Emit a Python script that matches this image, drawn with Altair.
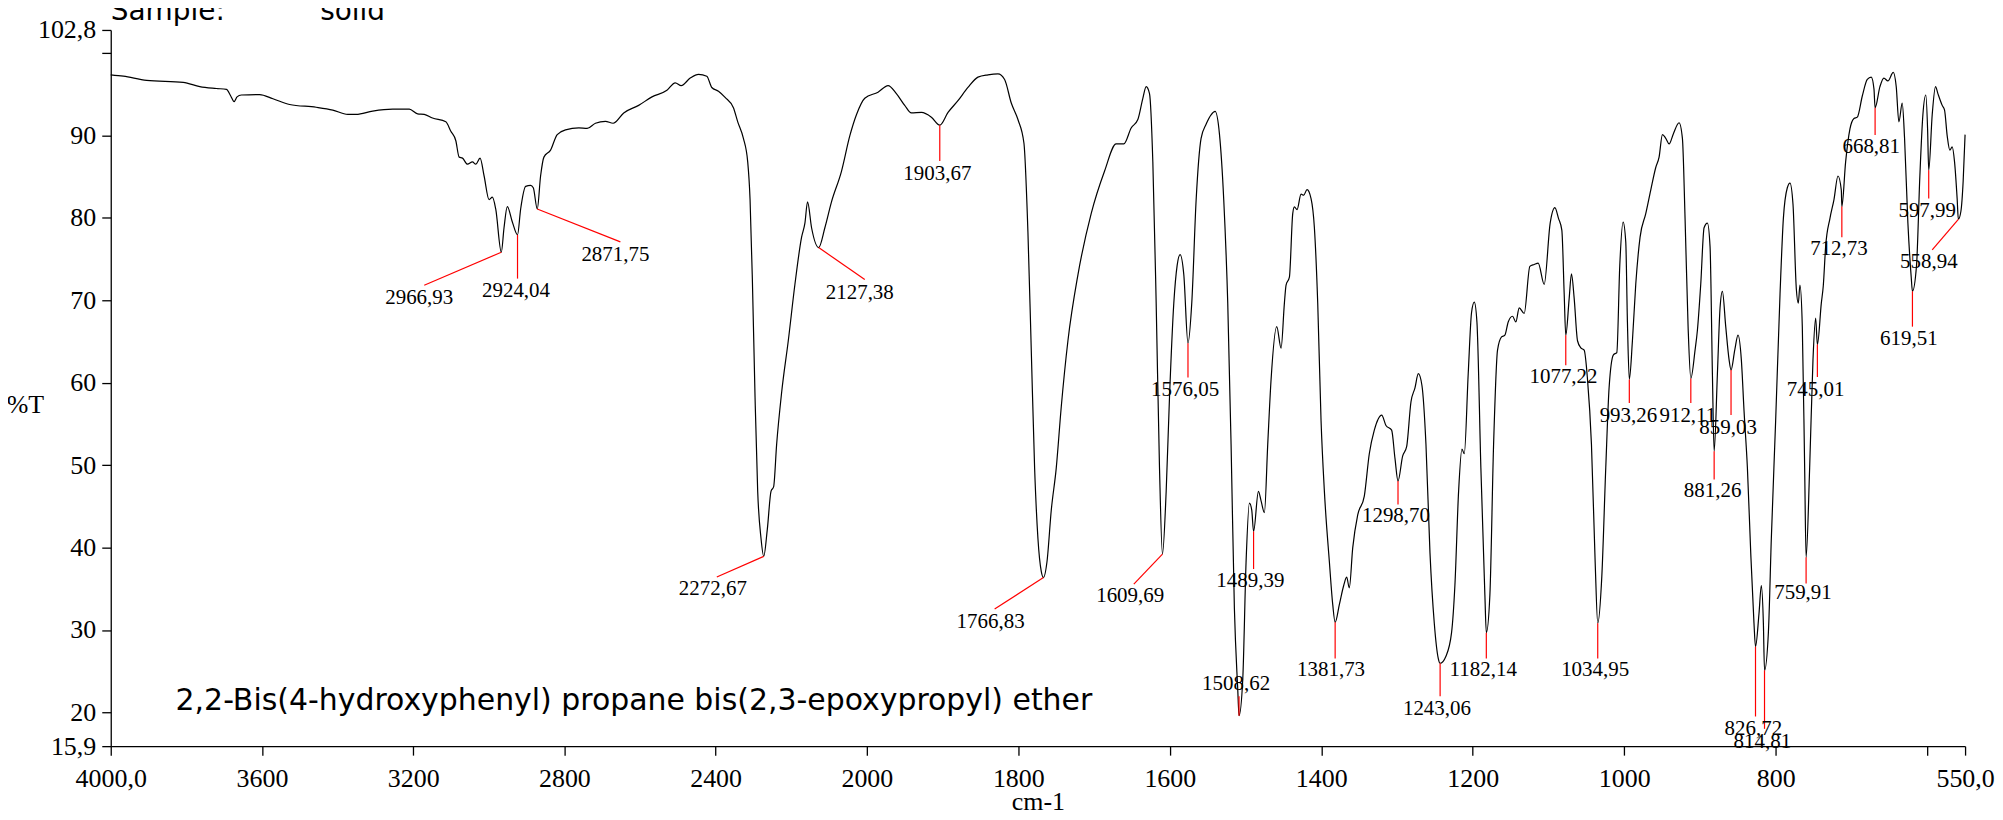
import altair as alt
import pandas as pd

# ---------------- spectrum (wavenumber cm-1, %T) ----------------
wavenumber = [
    4000.0, 3966.6, 3905.1, 3808.3, 3764.4, 3720.4, 3694.0, 3682.6, 3673.8, 3665.9,
    3654.4, 3606.1, 3570.9, 3526.9, 3456.6, 3412.6, 3373.0, 3351.0, 3307.1, 3254.3,
    3210.3, 3188.3, 3170.8, 3148.8, 3113.6, 3100.4, 3087.2, 3078.4, 3069.6, 3056.4,
    3043.2, 3034.4, 3023.0, 3012.4, 2999.3, 2990.5, 2981.7, 2966.9, 2959.7, 2951.0,
    2937.7, 2924.0, 2915.7, 2902.5, 2889.4, 2882.3, 2871.8, 2863.0, 2854.2, 2836.6,
    2819.0, 2797.0, 2761.8, 2739.9, 2717.9, 2691.5, 2671.3, 2643.1, 2603.6, 2568.4,
    2528.8, 2506.8, 2491.0, 2467.2, 2445.2, 2423.3, 2410.1, 2392.5, 2374.9, 2352.9,
    2341.5, 2326.5, 2315.1, 2308.9, 2302.8, 2295.7, 2288.7, 2279.9, 2272.7, 2263.2,
    2253.5, 2246.5, 2238.6, 2225.4, 2207.8, 2190.2, 2172.6, 2163.8, 2156.8, 2146.2,
    2127.4, 2111.0, 2093.5, 2067.1, 2045.1, 2027.5, 2005.5, 1985.2, 1972.0, 1961.0,
    1950.0, 1941.2, 1928.0, 1914.8, 1903.7, 1892.8, 1879.7, 1866.5, 1853.3, 1840.1,
    1826.9, 1818.1, 1809.3, 1800.5, 1792.6, 1787.3, 1782.9, 1778.5, 1774.1, 1769.7,
    1766.8, 1762.2, 1756.5, 1749.9, 1743.3, 1734.5, 1721.3, 1703.8, 1686.2, 1670.8,
    1660.7, 1651.0, 1642.2, 1635.6, 1631.2, 1626.8, 1622.4, 1618.0, 1613.6, 1609.7,
    1604.8, 1600.4, 1594.7, 1590.3, 1586.4, 1581.5, 1576.0, 1571.0, 1565.2, 1558.7,
    1552.1, 1545.5, 1540.2, 1534.5, 1528.8, 1523.5, 1519.1, 1514.7, 1510.3, 1508.6,
    1503.7, 1499.3, 1494.9, 1491.8, 1489.4, 1483.0, 1479.5, 1475.1, 1470.7, 1466.3,
    1458.8, 1453.1, 1448.7, 1446.5, 1442.1, 1437.7, 1435.5, 1432.0, 1426.7, 1423.2,
    1418.8, 1413.5, 1409.1, 1404.7, 1400.3, 1395.9, 1389.3, 1384.9, 1381.7, 1376.1,
    1370.4, 1366.5, 1363.0, 1358.5, 1351.9, 1343.2, 1336.6, 1330.0, 1320.3, 1314.6,
    1307.1, 1302.7, 1298.7, 1292.6, 1287.3, 1281.6, 1276.3, 1271.9, 1267.1, 1261.8,
    1256.5, 1250.8, 1245.5, 1243.1, 1235.4, 1228.0, 1223.6, 1218.7, 1214.3, 1211.2,
    1206.0, 1201.6, 1198.0, 1194.5, 1189.3, 1184.0, 1182.1, 1177.4, 1172.5, 1167.3,
    1162.0, 1157.6, 1153.2, 1147.5, 1143.1, 1138.7, 1132.1, 1124.6, 1118.9, 1113.6,
    1105.7, 1097.8, 1091.6, 1086.8, 1082.4, 1079.3, 1077.2, 1072.7, 1069.7, 1066.1,
    1061.7, 1057.3, 1052.9, 1048.6, 1043.3, 1038.4, 1035.0, 1029.6, 1024.4, 1020.0,
    1014.3, 1009.8, 1005.9, 1001.5, 998.0, 995.8, 993.3, 989.2, 984.8, 979.1,
    971.6, 965.0, 958.4, 954.0, 949.6, 945.2, 940.8, 935.1, 927.6, 923.2,
    919.7, 915.7, 912.1, 906.5, 903.4, 899.0, 894.6, 890.2, 886.7, 883.6,
    881.3, 877.0, 873.5, 870.4, 866.0, 861.6, 859.0, 854.1, 849.8, 845.4,
    841.8, 837.4, 833.0, 828.7, 826.7, 822.1, 819.0, 816.3, 814.8, 809.7,
    805.8, 800.1, 794.3, 789.9, 784.7, 781.2, 777.2, 772.8, 770.2, 768.0,
    764.9, 761.8, 759.9, 755.2, 750.8, 747.3, 745.0, 739.8, 737.2, 734.1,
    728.4, 723.1, 717.8, 713.4, 712.7, 707.7, 702.0, 696.7, 692.3, 685.7,
    679.1, 673.9, 670.3, 668.8, 662.4, 657.2, 651.9, 644.8, 640.9, 637.4,
    633.0, 629.9, 625.5, 621.1, 619.5, 614.1, 609.7, 605.7, 601.8, 599.5,
    598.0, 593.4, 589.0, 585.9, 580.2, 577.1, 573.6, 570.1, 567.0, 563.9,
    560.4, 558.9, 555.5, 552.5, 550.0,
]
transmittance = [
    97.36, 97.19, 96.68, 96.45, 95.93, 95.70, 95.59, 94.79, 94.10, 94.68,
    94.91, 94.96, 94.45, 93.76, 93.42, 93.08, 92.56, 92.56, 92.96, 93.19,
    93.19, 92.62, 92.56, 92.11, 91.65, 90.51, 89.36, 87.37, 87.25, 86.51,
    86.79, 86.51, 87.25, 85.08, 82.22, 82.51, 81.08, 75.83, 78.80, 81.37,
    79.50, 77.94, 81.08, 83.82, 83.94, 83.65, 81.08, 85.08, 87.37, 88.22,
    90.11, 90.68, 90.91, 90.85, 91.48, 91.71, 91.48, 92.73, 93.65, 94.68,
    95.48, 96.39, 96.05, 96.96, 97.42, 97.19, 95.82, 95.36, 94.62, 93.36,
    91.65, 89.65, 86.79, 82.22, 72.51, 58.24, 46.81, 41.10, 38.93, 42.24,
    46.81, 47.38, 52.52, 58.81, 65.09, 71.94, 77.66, 79.37, 81.94, 78.80,
    76.40, 78.80, 81.94, 85.65, 89.94, 92.51, 94.51, 95.25, 96.05, 95.08,
    93.65, 92.73, 92.79, 92.22, 91.25, 92.79, 94.22, 95.82, 97.08, 97.36,
    97.48, 96.79, 93.93, 91.93, 89.08, 78.23, 63.95, 49.67, 41.10, 37.10,
    36.36, 38.24, 44.53, 49.67, 57.09, 65.09, 73.09, 80.51, 85.65, 88.97,
    88.97, 90.91, 91.93, 94.51, 95.93, 95.08, 86.79, 69.66, 49.67, 39.21,
    46.81, 58.24, 69.66, 74.23, 75.54, 73.09, 64.80, 69.66, 82.22, 89.65,
    91.36, 92.51, 92.91, 90.22, 82.22, 69.66, 52.52, 32.53, 22.82, 19.60,
    23.96, 38.24, 45.38, 44.53, 41.95, 46.81, 45.67, 44.24, 52.52, 60.35,
    66.80, 64.19, 69.66, 71.85, 72.80, 80.51, 81.33, 81.00, 82.87, 82.75,
    83.43, 82.34, 78.80, 69.66, 55.38, 46.81, 38.24, 33.10, 30.93, 33.10,
    35.39, 36.42, 35.10, 39.96, 43.96, 46.24, 51.38, 54.24, 56.07, 54.81,
    54.24, 50.81, 48.07, 51.09, 52.24, 57.66, 59.38, 61.09, 59.66, 52.52,
    39.38, 30.82, 26.53, 25.96, 26.82, 29.67, 35.39, 46.81, 51.95, 51.38,
    61.09, 68.52, 69.77, 67.37, 49.67, 34.24, 29.67, 34.24, 52.52, 63.95,
    65.55, 65.77, 67.37, 68.06, 67.37, 69.09, 68.40, 74.11, 74.34, 74.51,
    71.94, 79.37, 81.25, 79.94, 78.51, 70.80, 65.77, 70.23, 73.20, 70.23,
    65.09, 64.23, 63.95, 60.52, 52.52, 38.24, 30.82, 36.53, 49.67, 59.38,
    63.38, 63.66, 74.23, 79.48, 77.08, 67.37, 60.40, 65.09, 71.94, 77.66,
    80.51, 83.37, 86.11, 87.37, 90.11, 89.65, 88.97, 90.22, 91.54, 89.65,
    79.94, 66.80, 60.52, 63.95, 66.37, 71.94, 78.80, 79.37, 76.51, 61.09,
    51.67, 61.09, 69.09, 71.09, 66.80, 62.80, 61.55, 63.95, 65.77, 62.80,
    56.52, 49.67, 39.38, 30.82, 27.96, 31.96, 35.39, 30.82, 25.10, 29.67,
    41.10, 55.38, 70.80, 79.94, 83.65, 84.22, 81.65, 71.37, 69.66, 71.83,
    66.80, 49.67, 38.81, 49.67, 62.80, 67.83, 64.63, 69.66, 71.77, 76.51,
    79.94, 82.22, 85.08, 83.37, 81.37, 86.79, 90.79, 92.05, 92.22, 94.79,
    96.79, 97.08, 95.65, 93.36, 95.93, 96.96, 96.62, 97.65, 95.93, 91.65,
    93.93, 89.65, 79.37, 72.80, 71.09, 74.23, 85.08, 92.51, 94.91, 90.79,
    85.77, 92.51, 95.93, 95.08, 93.65, 93.08, 89.94, 88.22, 88.62, 86.79,
    82.22, 79.83, 80.80, 84.50, 90.10,
]

# ---------------- peak annotations ----------------
peak_labels = [
    "2966,93", "2924,04", "2871,75", "2272,67", "2127,38", "1903,67", "1766,83",
    "1609,69", "1576,05", "1508,62", "1489,39", "1381,73", "1298,70", "1243,06",
    "1182,14", "1077,22", "1034,95", "993,26", "912,11", "881,26", "859,03",
    "826,72", "814,81", "759,91", "745,01", "712,73", "668,81", "619,51",
    "597,99", "558,94",
]
label_wn = [
    3184.0, 2928.0, 2665.1, 2407.4, 2018.7, 1906.9, 1836.6,
    1652.3, 1579.8, 1512.5, 1493.6, 1387.1, 1301.4, 1247.3,
    1186.2, 1080.2, 1038.4, 994.5, 916.0, 883.4, 862.9,
    829.5, 817.7, 764.0, 747.3, 716.5, 673.9, 624.2,
    600.0, 597.8,
]
label_t = [
    70.23, 71.13, 75.54, 34.92, 70.91, 85.37, 30.93,
    34.13, 59.09, 23.39, 35.96, 25.10, 43.78, 20.42,
    25.10, 60.69, 25.10, 56.00, 56.00, 46.81, 54.52,
    17.96, 16.42, 34.49, 59.09, 76.23, 88.62, 65.26,
    80.80, 74.69,
]
leader_wn_start = [
    2966.9, 2924.0, 2871.8, 2272.7, 2127.4, 1903.7, 1766.8,
    1609.7, 1576.0, 1508.6, 1489.4, 1381.7, 1298.7, 1243.1,
    1182.1, 1077.2, 1035.0, 993.3, 912.1, 881.3, 859.0,
    826.7, 814.8, 759.9, 745.0, 712.7, 668.8, 619.5,
    598.0, 558.9,
]
leader_t_start = [
    75.83, 77.94, 81.08, 38.93, 76.40, 91.25, 36.36,
    39.21, 64.80, 19.60, 41.95, 30.93, 48.07, 25.96,
    29.67, 65.77, 30.82, 60.40, 60.52, 51.67, 61.55,
    27.96, 25.10, 38.81, 64.63, 81.37, 93.36, 71.09,
    85.77, 79.83,
]
leader_wn_end = [
    3170.8, 2924.0, 2651.9, 2396.9, 2005.5, 1903.7, 1831.3,
    1647.5, 1576.0, 1508.6, 1489.4, 1381.7, 1298.7, 1243.1,
    1182.1, 1077.2, 1035.0, 993.3, 912.1, 881.3, 859.0,
    826.7, 814.8, 759.9, 745.0, 712.7, 668.8, 619.5,
    598.0, 593.4,
]
leader_t_end = [
    71.83, 72.63, 77.08, 36.42, 72.51, 86.91, 32.53,
    35.56, 60.63, 21.97, 37.39, 26.53, 45.21, 21.96,
    26.53, 62.12, 26.53, 57.55, 57.55, 48.24, 56.07,
    19.50, 18.00, 35.63, 60.70, 77.66, 90.05, 66.80,
    82.34, 76.11,
]

x_ticks = [4000, 3600, 3200, 2800, 2400, 2000, 1800, 1600, 1400, 1200, 1000, 800, 600, 550]
y_ticks = [102.8, 100, 90, 80, 70, 60, 50, 40, 30, 20, 15.9]

compound_name = "2,2-Bis(4-hydroxyphenyl) propane bis(2,3-epoxypropyl) ether"

spec_df = pd.DataFrame({"wn": wavenumber, "T": transmittance})
lab_df = pd.DataFrame({"label": peak_labels, "wn": label_wn, "T": label_t})
lead_df = pd.DataFrame({
    "wn": leader_wn_start, "T": leader_t_start,
    "wn_end": leader_wn_end, "T_end": leader_t_end,
})

W, H = 1859, 718
xs = alt.Scale(domain=[4000, 2000, 550], range=[0, 758, W], nice=False, zero=False)
ys = alt.Scale(domain=[15.9, 102.8], nice=False, zero=False)

x_axis = alt.Axis(
    values=x_ticks,
    labelExpr="datum.value == 4000 ? '4000,0' : datum.value == 550 ? '550,0' : datum.value == 600 ? '' : format(datum.value, 'd')",
    labelFlush=False, labelOverlap=False, grid=False,
    tickSize=9, labelPadding=10,
    titleY=64, titleBaseline="alphabetic",
)
y_axis = alt.Axis(
    values=y_ticks,
    labelExpr="datum.value == 102.8 ? '102,8' : datum.value == 15.9 ? '15,9' : datum.value == 100 ? '' : format(datum.value, 'd')",
    labelFlush=False, labelOverlap=False, grid=False,
    tickSize=9, labelPadding=6,
    titleAngle=0, titleX=-86, titleY=376, titleAlign="center", titleBaseline="middle",
)


def X(field):
    return alt.X(field, type="quantitative", scale=xs, axis=x_axis, title="cm-1")


def Y(field):
    return alt.Y(field, type="quantitative", scale=ys, axis=y_axis, title="%T")


line = alt.Chart(spec_df).mark_line(color="black", strokeWidth=1.2, interpolate="monotone").encode(
    x=X("wn"), y=Y("T"),
)

rules = alt.Chart(lead_df).mark_rule(color="#ff0000", strokeWidth=1.2).encode(
    x=X("wn"), x2="wn_end:Q", y=Y("T"), y2="T_end:Q",
)

labels = alt.Chart(lab_df).mark_text(
    font="Liberation Serif", fontSize=21, color="black", align="center", baseline="middle"
).encode(x=X("wn"), y=Y("T"), text="label:N")

compound = alt.Chart(pd.DataFrame({"t": [compound_name]})).mark_text(
    font="DejaVu Sans", fontSize=30, color="black", align="left", baseline="alphabetic"
).encode(x=alt.value(65), y=alt.value(682), text="t:N")

sample_a = alt.Chart(pd.DataFrame({"t": ["Sample:"]})).mark_text(
    font="DejaVu Sans", fontSize=28, color="black", align="left", baseline="alphabetic"
).encode(x=alt.value(0), y=alt.value(-10), text="t:N")

sample_b = alt.Chart(pd.DataFrame({"t": ["solid"]})).mark_text(
    font="DejaVu Sans", fontSize=28, color="black", align="left", baseline="alphabetic"
).encode(x=alt.value(210), y=alt.value(-10), text="t:N")

chart = alt.layer(line, rules, labels, compound, sample_a, sample_b).properties(
    width=W, height=H,
    autosize=alt.AutoSizeParams(type="none"),
    padding={"left": 103, "top": 21, "right": 30, "bottom": 65},
).configure_view(
    stroke="transparent"
).configure_axis(
    domainColor="black", domainWidth=1.3, tickColor="black", tickWidth=1.3,
    labelFont="Liberation Serif", labelFontSize=26, labelColor="black",
    titleFont="Liberation Serif", titleFontSize=26, titleFontWeight="normal", titleColor="black",
)

chart.save("out.html", embed_options={"renderer": "svg", "actions": False})
